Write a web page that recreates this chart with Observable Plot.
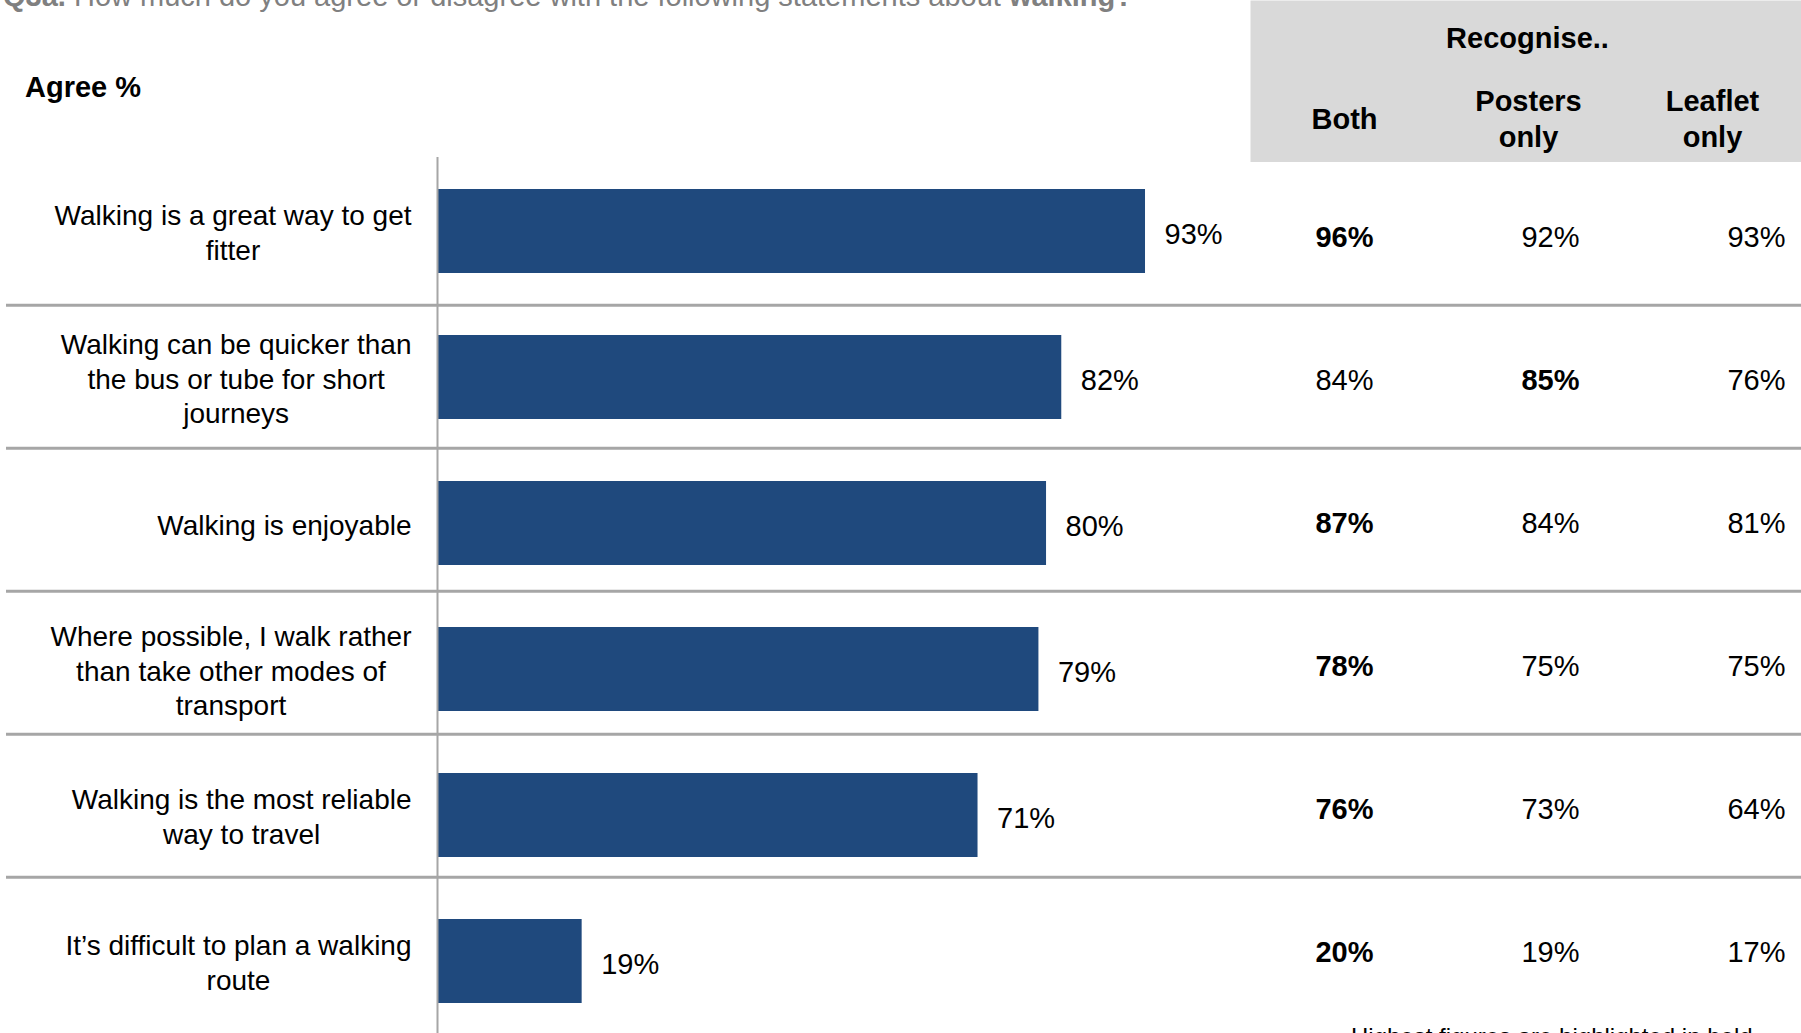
<!DOCTYPE html>
<html>
<head>
<meta charset="utf-8">
<script src="https://cdn.jsdelivr.net/npm/d3@7"></script>
<script src="https://cdn.jsdelivr.net/npm/@observablehq/plot@0.6"></script>
<style>
  html, body { margin: 0; padding: 0; background: #fff; }
  #wrap { position: relative; width: 1801px; height: 1033px; overflow: hidden;
          font-family: "Liberation Sans", Arial, sans-serif; color: #000; }
  .layer { position: absolute; left: 0; top: 0; }
  #title { position: absolute; left: 3px; top: -18px; font-size: 29px; line-height: 29px;
           color: #808080; white-space: nowrap; }
  #agree { position: absolute; left: 25px; top: 72px; font-size: 29px; line-height: 30px;
           font-weight: bold; white-space: nowrap; }
  #note { position: absolute; left: 1351px; top: 1025px; font-size: 24px; line-height: 24px;
          white-space: nowrap; }
  #head { position: absolute; left: 1250px; top: 0; }
</style>
</head>
<body>
<div id="wrap">
  <div id="title"><b>Q3a.</b> How much do you agree or disagree with the following statements about <b>walking?</b></div>
  <div id="agree">Agree %</div>
  <div id="bars" class="layer"></div>
  <div id="table" class="layer"></div>
  <div id="head"></div>
  <div id="note">Highest figures are highlighted in bold</div>
</div>
<script>
// ---- data ----
const categories = [
  "Walking is a great way to get\nfitter",
  "Walking can be quicker than\nthe bus or tube for short\njourneys",
  "Walking is enjoyable",
  "Where possible, I walk rather\nthan take other modes of\ntransport",
  "Walking is the most reliable\nway to travel",
  "It\u2019s difficult to plan a walking\nroute"
];
const agree = [93, 82, 80, 79, 71, 19];
const columns = ["Both", "Posters only", "Leaflet only"];
const both = [96, 84, 87, 78, 76, 20];
const postersOnly = [92, 85, 84, 75, 73, 19];
const leafletOnly = [93, 76, 81, 75, 64, 17];

const FONT = "'Liberation Sans', Arial, sans-serif";
const BLUE = "#1F497D";
const GRID = "#a6a6a6";

// ---- bars ----
const barData = categories.map((c, i) => ({label: c, value: agree[i]}));

// measure label blocks so lines are centred within a right-aligned block
const ctx = document.createElement("canvas").getContext("2d");
ctx.font = "28px " + FONT;
const blockW = categories.map(c => Math.max(...c.split("\n").map(s => ctx.measureText(s).width)));

const labelMarks = categories.map((c, i) =>
  Plot.text([c], {
    y: d => d, text: d => d, frameAnchor: "left", textAnchor: "middle", lineAnchor: "middle",
    dx: -26 - blockW[i] / 2, dy: 0, fontSize: 28, lineHeight: 34.5 / 28
  })
);

const barsPlot = Plot.plot({
  width: 1801, height: 1033,
  marginTop: 157, marginBottom: 0, marginLeft: 437, marginRight: 0,
  style: {background: "transparent", fontFamily: FONT, color: "#000"},
  x: {domain: [0, 100], range: [437, 1198.3], axis: null},
  y: {domain: categories, range: [155.6, 1035.8], paddingInner: 0.427, paddingOuter: 0.2135, axis: null},
  marks: [
    Plot.barX(barData, {x: "value", y: "label", fill: BLUE}),
    Plot.text(barData, {x: "value", y: "label", text: d => d.value + "%", textAnchor: "start",
                        dx: 19, dy: 3, fontSize: 29}),
    ...labelMarks,
    Plot.ruleX([0], {stroke: GRID, strokeWidth: 2})
  ]
});
document.getElementById("bars").appendChild(barsPlot);

// ---- table ----
const series = [both, postersOnly, leafletOnly];
const tableData = [];
categories.forEach((c, i) => {
  const vals = series.map(s => s[i]);
  const mx = Math.max(...vals);
  columns.forEach((col, j) => tableData.push({label: c, col, value: vals[j], bold: vals[j] === mx}));
});

const rowStep = (1022 - 160) / categories.length;
const tablePlot = Plot.plot({
  width: 1801, height: 1033,
  marginTop: 160, marginBottom: 11, marginLeft: 6, marginRight: 0,
  style: {background: "transparent", fontFamily: FONT, color: "#000"},
  x: {type: "point", domain: columns, range: [1343, 1756], padding: 0, axis: null},
  y: {type: "band", domain: categories, range: [160, 1022], padding: 0, axis: null},
  marks: [
    Plot.ruleY(categories.slice(1), {y: d => d, stroke: GRID, strokeWidth: 3, dy: -rowStep / 2}),
    Plot.text(tableData.filter(d => !d.bold), {x: "col", y: "label", text: d => d.value + "%", fontSize: 29, dy: 4}),
    Plot.text(tableData.filter(d => d.bold), {x: "col", y: "label", text: d => d.value + "%", fontSize: 29, dy: 4, fontWeight: "bold"})
  ]
});
document.getElementById("table").appendChild(tablePlot);

// ---- header ----
const headPlot = Plot.plot({
  width: 551, height: 162,
  marginTop: 0, marginBottom: 0, marginLeft: 0, marginRight: 0,
  style: {background: "transparent", fontFamily: FONT, color: "#000"},
  x: {type: "point", domain: columns, range: [93, 462], padding: 0, axis: null},
  marks: [
    Plot.frame({fill: "#d9d9d9", stroke: "none"}),
    Plot.text(["Recognise.."], {text: d => d, frameAnchor: "top", lineAnchor: "middle", dx: 1.5, dy: 38,
                                fontSize: 29, fontWeight: "bold"}),
    Plot.text(columns, {x: d => d, text: d => d.replace(" ", "\n"), frameAnchor: "top", lineAnchor: "middle",
                        dy: 117, fontSize: 29, fontWeight: "bold", lineHeight: 36 / 29})
  ]
});
document.getElementById("head").appendChild(headPlot);
</script>
</body>
</html>
